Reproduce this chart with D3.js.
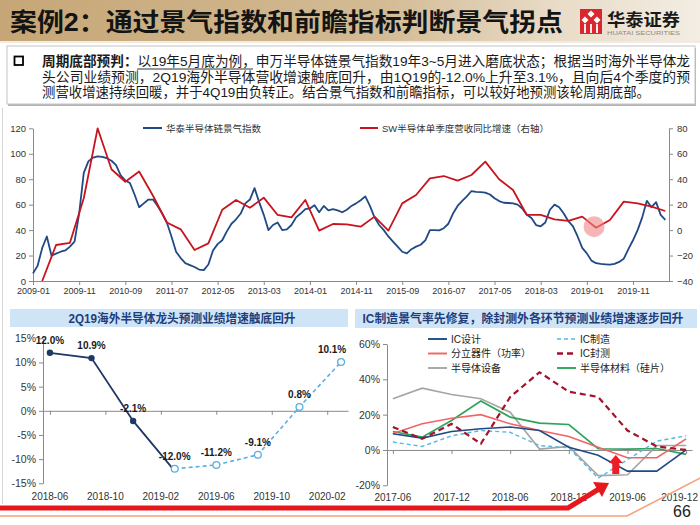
<!DOCTYPE html>
<html><head><meta charset="utf-8">
<script src="https://cdn.jsdelivr.net/npm/d3@7"></script>
<style>body{margin:0;background:#fff}svg{display:block}text{font-family:"Liberation Sans","Noto Sans CJK SC",sans-serif}</style>
</head><body>
<svg id="c" width="700" height="525"></svg>
<script>
// ---------------- DATA ----------------
const pageTitle = "案例2：通过景气指数和前瞻指标判断景气拐点";
const noteBold = "周期底部预判：";
const noteLine1 = "以19年5月底为例，申万半导体链景气指数19年3~5月进入磨底状态；根据当时海外半导体龙";
const noteLine2 = "头公司业绩预测，2Q19海外半导体营收增速触底回升，由1Q19的-12.0%上升至3.1%，且向后4个季度的预";
const noteLine3 = "测营收增速持续回暖，并于4Q19由负转正。结合景气指数和前瞻指标，可以较好地预测该轮周期底部。";

// Top chart
const topXTickLabels = ["2009-01","2009-11","2010-09","2011-07","2012-05","2013-03","2014-01","2014-11","2015-09","2016-07","2017-05","2018-03","2019-01","2019-11"];
const topLeftTicks = [0,20,40,60,80,100,120];
const topRightTicks = [-40,-20,0,20,40,60,80];
const climateName = "华泰半导体链景气指数";
const climateStart = "2009-01";   // monthly
const climateIndex = [6,12,26,35,20,21.5,23,24,27,31,
  53,85,94,97,98,97.5,96.5,94.5,91,83,
  79,77,68,58,61,64,64,59,53,46,
  35,23,18,14,12.5,11,9,8.5,13,24,
  29,32,39,45,48.5,53,61,64,73,62,
  52,40,44,46,40,40.5,44,50,53,56.5,
  57,59.5,54,59,55.5,56.5,55.5,54,56,59,
  61,63.5,66.5,59,50,44,40,35,31,27,
  23,21.7,25,27,28.5,32,40,40,39.8,41.5,
  45,53,59,63,66.5,70.7,70,69.8,69.5,68,
  65,62.8,61.5,61.3,61,60,57,52,49.5,44,
  43,46,56,60,58,53,47,43,35,26,
  21.7,16,14,13.4,13.1,12.8,13.5,15,17.5,25,
  32,40,50,63,58,62,52,48];
const swName = "SW半导体单季度营收同比增速（右轴）";
const swStart = "2009-03";  // quarterly
const swRevenueGrowth = [-40,-11.7,-10,25,80,47.8,38,46,27,6,
  0.6,-15.6,-10.4,16,23.7,17.6,25.5,11.9,10,23.7,
  -0.4,4.8,4.5,2.7,10.6,-0.4,21,27.6,40.7,42.5,
  38.9,43.3,53.8,40,31.5,11.9,11.9,8.5,7.2,10.6,
  1.9,8,22.4,21,18.4,15];
const highlightMonth = "2019-03";

// Bottom-left chart
const blTitle = "2Q19海外半导体龙头预测业绩增速触底回升";
const blDates = ["2018-06","2018-09","2018-12","2019-03","2019-06","2019-09","2019-12","2020-03"];
const blActual = [12.0,10.9,-2.1,-12.0,null,null,null,null];
const blForecast = [null,null,null,-12.0,-11.2,-9.1,0.8,10.1];
const blLabels = ["12.0%","10.9%","-2.1%","-12.0%","-11.2%","-9.1%","0.8%","10.1%"];
const blXTicks = ["2018-06","2018-10","2019-02","2019-06","2019-10","2020-02"];
const blYTicks = [-15,-10,-5,0,5,10,15];

// Bottom-right chart
const brTitle = "IC制造景气率先修复，除封测外各环节预测业绩增速逐步回升";
const brDates = ["2017-06","2017-09","2017-12","2018-03","2018-06","2018-09","2018-12","2019-03","2019-06","2019-09","2019-12"];
const brXTicks = ["2017-06","2017-12","2018-06","2018-12","2019-06","2019-12"];
const brYTicks = [-20,0,20,40,60];
const seriesNames = ["IC设计","IC制造","分立器件（功率）","IC封测","半导体设备","半导体材料（硅片）"];
const icDesign   = [9.2,6.7,10.5,12,13,11,1.6,-3,-12,-12,0];
const icMfg      = [4.5,2,8,11,10,2.5,1.2,-16,-5.5,5,8];
const discrete   = [9.3,14.8,18,20,14.8,11,7.6,1.6,-4.4,-4.4,6.3];
const packaging  = [13,6.3,14.8,3.5,30,44,33,30,11,2,0];
const equipment  = [29,35,31.4,29,21.4,0.5,2,-14.5,-14,2.5,2.5];
const materials  = [10.5,7.3,16.7,27.7,18.6,15.2,14.4,0.7,0.5,0.8,-2.5];
const pageNumber = "66";

// ---------------- HELPERS ----------------
const monthsFrom = (base, s) => (+s.slice(0,4) - +base.slice(0,4))*12 + (+s.slice(5,7) - +base.slice(5,7));
const svg = d3.select("#c");
const AX = "#8a8a8a", TX = "#333";
function styleAxis(g, fs){
  g.selectAll("path.domain").attr("stroke",AX).attr("stroke-width",1);
  g.selectAll(".tick line").attr("stroke",AX);
  g.selectAll(".tick text").attr("fill",TX).style("font-size",fs+"px").style("font-family","Liberation Sans, sans-serif");
}

// ---------------- HEADER ----------------
const defs = svg.append("defs");
const gr = defs.append("linearGradient").attr("id","hdr").attr("x1","0").attr("x2","1").attr("y1","0").attr("y2","0");
gr.append("stop").attr("offset","0").attr("stop-color","#c6a676");
gr.append("stop").attr("offset","0.55").attr("stop-color","#d3bb95");
gr.append("stop").attr("offset","0.8").attr("stop-color","#e9dcc8");
gr.append("stop").attr("offset","1").attr("stop-color","#f3ede3");
svg.append("rect").attr("x",0).attr("y",0).attr("width",700).attr("height",41).attr("fill","url(#hdr)");
svg.append("rect").attr("x",0).attr("y",41).attr("width",700).attr("height",2).attr("fill","#f1ebe1");
svg.append("text").attr("x",10).attr("y",31).attr("font-size",25).attr("font-weight","bold")
  .attr("fill","#141414").attr("textLength",553).attr("lengthAdjust","spacingAndGlyphs").text(pageTitle);
// logo
const logo = svg.append("g").attr("transform","translate(580,9)");
logo.append("rect").attr("width",22).attr("height",25).attr("fill","#d9272e");
[[11,5],[5,11],[17,11]].forEach(([cx,cy])=>{
  logo.append("path").attr("d",`M${cx},${cy-3.5}L${cx+3.5},${cy}L${cx},${cy+3.5}L${cx-3.5},${cy}Z`).attr("fill","#fff");
});
[5,11,17].forEach(x=>logo.append("rect").attr("x",x-0.9).attr("y",15).attr("width",1.8).attr("height",9).attr("fill","#fff"));
svg.append("text").attr("x",607).attr("y",26).attr("font-size",17).attr("font-weight","bold").attr("fill","#1a1a1a")
  .attr("textLength",73).attr("lengthAdjust","spacingAndGlyphs").text("华泰证券");
svg.append("text").attr("x",607).attr("y",34.5).attr("font-size",5.5).attr("fill","#8a8a8a")
  .attr("textLength",73).attr("lengthAdjust","spacingAndGlyphs").text("HUATAI SECURITIES");

// ---------------- NOTE BOX ----------------
svg.append("rect").attr("x",8).attr("y",48).attr("width",688).attr("height",58).attr("fill","#b5b5b5");
svg.append("rect").attr("x",7).attr("y",46).attr("width",688).attr("height",58).attr("fill","#fff").attr("stroke","#c4c4c4");
svg.append("rect").attr("x",14.5).attr("y",56.5).attr("width",8.5).attr("height",8.5).attr("fill","none").attr("stroke","#000").attr("stroke-width",1.8);
const t1 = svg.append("text").attr("x",42).attr("y",66).attr("font-size",13.5).attr("fill","#1a1a1a")
  .attr("textLength",648).attr("lengthAdjust","spacingAndGlyphs");
t1.append("tspan").attr("font-weight","bold").text(noteBold);
t1.append("tspan").text(noteLine1);
svg.append("line").attr("x1",137).attr("x2",253).attr("y1",69).attr("y2",69).attr("stroke","#333").attr("stroke-width",1);
svg.append("text").attr("x",42).attr("y",82).attr("font-size",13.5).attr("fill","#1a1a1a")
  .attr("textLength",648).attr("lengthAdjust","spacingAndGlyphs").text(noteLine2);
svg.append("text").attr("x",42).attr("y",97).attr("font-size",13.5).attr("fill","#1a1a1a")
  .attr("textLength",608).attr("lengthAdjust","spacingAndGlyphs").text(noteLine3);

// frame line
svg.append("line").attr("x1",2.5).attr("x2",2.5).attr("y1",108).attr("y2",504).attr("stroke","#d6d6d6");

// ---------------- TOP CHART ----------------
const xTop = d3.scaleLinear().domain([0,137.8]).range([33,669]);
const yL = d3.scaleLinear().domain([0,120]).range([281,128.3]);
const yR = d3.scaleLinear().domain([-40,80]).range([281,128.3]);
const gx = svg.append("g").attr("transform","translate(0,281)")
  .call(d3.axisBottom(xTop).tickValues(topXTickLabels.map(s=>monthsFrom(climateStart,s)))
  .tickFormat((d,i)=>topXTickLabels[i]).tickSize(4).tickSizeOuter(0).tickPadding(3));
styleAxis(gx,9);
const gyl = svg.append("g").attr("transform","translate(33,0)")
  .call(d3.axisLeft(yL).tickValues(topLeftTicks).tickSize(4).tickSizeOuter(0).tickPadding(3));
styleAxis(gyl,9.5);
const gyr = svg.append("g").attr("transform","translate(669,0)")
  .call(d3.axisRight(yR).tickValues(topRightTicks).tickSize(4).tickSizeOuter(0).tickPadding(4));
styleAxis(gyr,9.5);

const blueC = "#1f4a85", redC = "#c8141e";
svg.append("path").datum(climateIndex)
  .attr("d",d3.line().x((d,i)=>xTop(i)).y(d=>yL(d)))
  .attr("fill","none").attr("stroke",blueC).attr("stroke-width",1.8).attr("stroke-linejoin","round");
const swOff = monthsFrom(climateStart, swStart);
svg.append("path").datum(swRevenueGrowth)
  .attr("d",d3.line().x((d,i)=>xTop(swOff+3*i)).y(d=>yR(d)))
  .attr("fill","none").attr("stroke",redC).attr("stroke-width",1.8).attr("stroke-linejoin","round");
const hm = monthsFrom(climateStart, highlightMonth);
svg.append("circle").attr("cx",xTop(hm)-2).attr("cy",yR(swRevenueGrowth[(hm-swOff)/3])-1).attr("r",10.5)
  .attr("fill","#f08686").attr("opacity",0.6);
// legend
svg.append("line").attr("x1",143).attr("x2",162).attr("y1",128).attr("y2",128).attr("stroke",blueC).attr("stroke-width",2);
svg.append("text").attr("x",166).attr("y",131.5).attr("font-size",9.5).attr("fill",TX).text(climateName);
svg.append("line").attr("x1",360).attr("x2",378).attr("y1",128).attr("y2",128).attr("stroke",redC).attr("stroke-width",2);
svg.append("text").attr("x",382).attr("y",131.5).attr("font-size",9.5).attr("fill",TX)
  .attr("textLength",167).attr("lengthAdjust","spacingAndGlyphs").text(swName);

// ---------------- BOTTOM-LEFT CHART ----------------
svg.append("rect").attr("x",10).attr("y",309).attr("width",338).attr("height",18).attr("fill","#cfe5f7");
svg.append("text").attr("x",182).attr("y",322.5).attr("text-anchor","middle").attr("font-size",12).attr("font-weight","bold")
  .attr("fill","#1f3d7a").attr("textLength",227).attr("lengthAdjust","spacingAndGlyphs").text(blTitle);
const blBase = blDates[0];
const xBL = d3.scaleLinear().domain([-0.5,21.5]).range([43,348]);
const yBL = d3.scaleLinear().domain([-15,15]).range([483.3,338.3]);
const gblx = svg.append("g").attr("transform",`translate(0,${yBL(0)})`)
  .call(d3.axisBottom(xBL).tickValues(blXTicks.map(s=>monthsFrom(blBase,s))).tickFormat("").tickSize(4).tickSizeOuter(0));
styleAxis(gblx,10);
const gbly = svg.append("g").attr("transform","translate(43,0)")
  .call(d3.axisLeft(yBL).tickValues(blYTicks).tickFormat(d=>d+"%").tickSize(4).tickSizeOuter(0).tickPadding(3));
styleAxis(gbly,10.5);
svg.append("g").selectAll("text").data(blXTicks).join("text")
  .attr("x",d=>xBL(monthsFrom(blBase,d))).attr("y",500).attr("text-anchor","middle")
  .attr("font-size",10).attr("fill",TX).text(d=>d);
const blPts = blDates.map((d,i)=>({m:monthsFrom(blBase,d),a:blActual[i],f:blForecast[i],lab:blLabels[i]}));
const navy = "#1f3864", lightB = "#5aaee0";
svg.append("path").datum(blPts.filter(p=>p.f!==null))
  .attr("d",d3.line().x(p=>xBL(p.m)).y(p=>yBL(p.f)))
  .attr("fill","none").attr("stroke",lightB).attr("stroke-width",1.6).attr("stroke-dasharray","4,3");
const act = blPts.filter(p=>p.a!==null);
svg.append("path").datum(act)
  .attr("d",d3.line().x((p,i)=>i===act.length-1? xBL(p.m)-3 : xBL(p.m)).y((p,i)=>i===act.length-1? yBL(p.a)-1.5 : yBL(p.a)))
  .attr("fill","none").attr("stroke",navy).attr("stroke-width",1.8);
svg.append("g").selectAll("circle").data(act.slice(0,3)).join("circle")
  .attr("cx",p=>xBL(p.m)).attr("cy",p=>yBL(p.a)).attr("r",3.2).attr("fill",navy);
svg.append("g").selectAll("circle").data(blPts.filter(p=>p.f!==null)).join("circle")
  .attr("cx",p=>xBL(p.m)).attr("cy",p=>yBL(p.f)).attr("r",3.4).attr("fill","#fff").attr("stroke",lightB).attr("stroke-width",1.3);
svg.append("g").selectAll("text").data(blPts).join("text")
  .attr("x",(p,i)=>xBL(p.m) + (i===blPts.length-1? -9 : 0))
  .attr("y",p=>yBL(p.a!==null? p.a : p.f)-9)
  .attr("text-anchor","middle").attr("font-size",10).attr("font-weight","bold").attr("fill","#1a1a1a")
  .text(p=>p.lab);

// ---------------- BOTTOM-RIGHT CHART ----------------
svg.append("rect").attr("x",355).attr("y",309).attr("width",342).attr("height",19).attr("fill","#cfe5f7");
svg.append("text").attr("x",523).attr("y",323).attr("text-anchor","middle").attr("font-size",12).attr("font-weight","bold")
  .attr("fill","#1f3d7a").attr("textLength",321).attr("lengthAdjust","spacingAndGlyphs").text(brTitle);
const brBase = brDates[0];
const xBR = d3.scaleLinear().domain([-0.6,30.6]).range([387,692]);
const yBR = d3.scaleLinear().domain([-20,60]).range([485.3,344]);
const gbrx = svg.append("g").attr("transform",`translate(0,${yBR(0)})`)
  .call(d3.axisBottom(xBR).tickValues(brXTicks.map(s=>monthsFrom(brBase,s))).tickFormat("").tickSize(4).tickSizeOuter(0));
styleAxis(gbrx,10);
const gbry = svg.append("g").attr("transform","translate(387,0)")
  .call(d3.axisLeft(yBR).tickValues(brYTicks).tickFormat(d=>d+"%").tickSize(4).tickSizeOuter(0).tickPadding(3));
styleAxis(gbry,10.5);
svg.append("g").selectAll("text").data(brXTicks).join("text")
  .attr("x",(d,i)=> i===brXTicks.length-1 ? 698 : xBR(monthsFrom(brBase,d)))
  .attr("y",501).attr("text-anchor",(d,i)=> i===brXTicks.length-1 ? "end" : "middle")
  .attr("font-size",10).attr("fill",TX).text(d=>d);
const brSeries = [
  {name:seriesNames[4], v:equipment, c:"#a5a5a5", w:1.6, dash:null},
  {name:seriesNames[5], v:materials, c:"#2da35c", w:1.6, dash:null},
  {name:seriesNames[2], v:discrete,  c:"#f26464", w:1.6, dash:null},
  {name:seriesNames[1], v:icMfg,     c:"#55b8e3", w:1.4, dash:"4,3"},
  {name:seriesNames[0], v:icDesign,  c:"#1f4a85", w:1.6, dash:null},
  {name:seriesNames[3], v:packaging, c:"#a3122b", w:2.2, dash:"6,4"}
];
const brM = brDates.map(d=>monthsFrom(brBase,d));
brSeries.forEach(s=>{
  svg.append("path").datum(s.v)
    .attr("d",d3.line().x((d,i)=>xBR(brM[i])).y(d=>yBR(d)))
    .attr("fill","none").attr("stroke",s.c).attr("stroke-width",s.w)
    .attr("stroke-dasharray",s.dash);
});
// legend (2 columns x 3 rows)
seriesNames.forEach((n,i)=>{
  const s = brSeries.find(q=>q.name===n);
  const col = i%2, row = Math.floor(i/2);
  const x0 = col===0? 428 : 557, y0 = 339 + row*14.5;
  svg.append("line").attr("x1",x0).attr("x2",x0+19).attr("y1",y0).attr("y2",y0)
    .attr("stroke",s.c).attr("stroke-width",s.w+0.3).attr("stroke-dasharray",s.dash);
  svg.append("text").attr("x",x0+23).attr("y",y0+3.8).attr("font-size",10).attr("fill","#222").text(n);
});
// red up arrow
const ax = xBR(22.8), yb = yBR(-13.6), yt = yBR(-2.8);
svg.append("path").attr("d",`M${ax-3.5},${yb}L${ax-3.5},${yt+8}L${ax-7},${yt+8}L${ax},${yt}L${ax+7},${yt+8}L${ax+3.5},${yt+8}L${ax+3.5},${yb}Z`)
  .attr("fill","#ee1c25");

// ---------------- BOTTOM DECORATION ----------------
svg.append("path").attr("d","M0,516L627,516L702,477").attr("fill","none").attr("stroke","#f4a27f").attr("stroke-width",1.6);
svg.append("path").attr("d","M0,508L568,508L599,489").attr("fill","none").attr("stroke","#e8161d").attr("stroke-width",5).attr("stroke-linejoin","miter");
svg.append("path").attr("d","M609,483L593,482L602,497Z").attr("fill","#e8161d");
svg.append("text").attr("x",682).attr("y",517).attr("text-anchor","middle").attr("font-size",16).attr("fill","#222").text(pageNumber);
</script>
</body></html>
